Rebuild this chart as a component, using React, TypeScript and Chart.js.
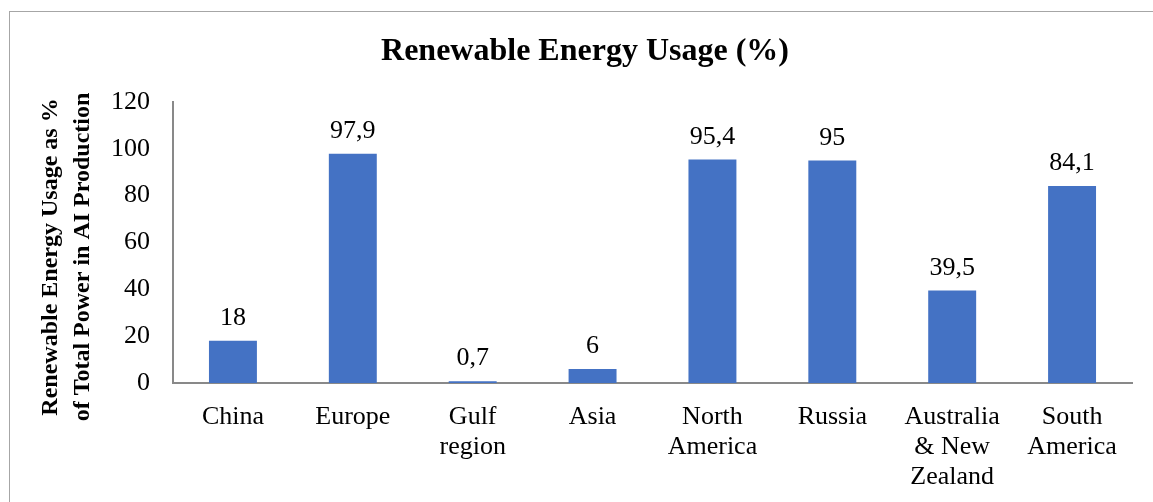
import React, { useEffect, useRef } from "react";
import { Chart, registerables } from "chart.js";

Chart.register(...registerables);

const categories: string[][] = [
  ["China"],
  ["Europe"],
  ["Gulf", "region"],
  ["Asia"],
  ["North", "America"],
  ["Russia"],
  ["Australia", "& New", "Zealand"],
  ["South", "America"],
];
const values: number[] = [18, 97.9, 0.7, 6, 95.4, 95, 39.5, 84.1];
const chartTitle = "Renewable Energy Usage (%)";
const yTitleLines: string[] = ["Renewable Energy Usage as %", "of Total Power in AI Production"];

const SERIF = "'Liberation Serif', 'Times New Roman', serif";

const decorPlugin = {
  id: "decor",
  beforeDraw(chart: any) {
    const ctx = chart.ctx;
    ctx.save();
    ctx.fillStyle = "#ffffff";
    ctx.fillRect(0, 0, chart.width, chart.height);
    ctx.strokeStyle = "#a6a6a6";
    ctx.lineWidth = 1;
    ctx.strokeRect(9.5, 11.5, chart.width + 20, chart.height + 20);
    ctx.restore();
  },
  afterDraw(chart: any) {
    const ctx = chart.ctx;
    ctx.save();
    // title
    ctx.fillStyle = "#000";
    ctx.font = `bold 32px ${SERIF}`;
    ctx.textAlign = "center";
    ctx.textBaseline = "middle";
    ctx.fillText(chartTitle, 585, 52);
    // y title
    ctx.font = `bold 24px ${SERIF}`;
    const xs = [51, 83];
    yTitleLines.forEach((line, i) => {
      ctx.save();
      ctx.translate(xs[i], 257);
      ctx.rotate(-Math.PI / 2);
      ctx.fillText(line, 0, 0);
      ctx.restore();
    });
    // data labels
    ctx.font = `26px ${SERIF}`;
    ctx.textBaseline = "alphabetic";
    const meta = chart.getDatasetMeta(0);
    meta.data.forEach((bar: any, i: number) => {
      const label = String(values[i]).replace(".", ",");
      ctx.fillText(label, bar.x, bar.y - 16);
    });
    ctx.restore();
  },
};

export default function App() {
  const ref = useRef<HTMLCanvasElement | null>(null);
  useEffect(() => {
    if (!ref.current) return;
    const chart = new Chart(ref.current, {
      type: "bar",
      data: {
        labels: categories,
        datasets: [
          {
            data: values,
            backgroundColor: "#4472C4",
            borderWidth: 0,
            categoryPercentage: 1,
            barPercentage: 0.4,
          },
        ],
      },
      options: {
        responsive: false,
        animation: false,
        layout: { padding: { left: 0, top: 102, right: 21, bottom: 0 } },
        plugins: {
          legend: { display: false },
          title: { display: false },
          tooltip: { enabled: false },
        },
        scales: {
          x: {
            grid: { display: false, drawTicks: false },
            border: { display: true, color: "#898989", width: 2 },
            ticks: {
              color: "#000",
              font: { family: SERIF, size: 26, lineHeight: 1.15 },
              padding: 19,
              maxRotation: 0,
              autoSkip: false,
            },
            afterFit(scale: any) {
              scale.height = 119;
            },
          },
          y: {
            min: 0,
            max: 120,
            grid: { display: false, drawTicks: false },
            border: { display: true, color: "#898989", width: 2 },
            ticks: {
              stepSize: 20,
              color: "#000",
              font: { family: SERIF, size: 26 },
              padding: 23,
            },
            afterFit(scale: any) {
              scale.width = 173;
            },
          },
        },
      },
      plugins: [decorPlugin],
    });
    return () => chart.destroy();
  }, []);
  return (
    <canvas
      ref={ref}
      width={1153}
      height={502}
      style={{ position: "fixed", left: 0, top: 0, width: 1153, height: 502 }}
    />
  );
}
